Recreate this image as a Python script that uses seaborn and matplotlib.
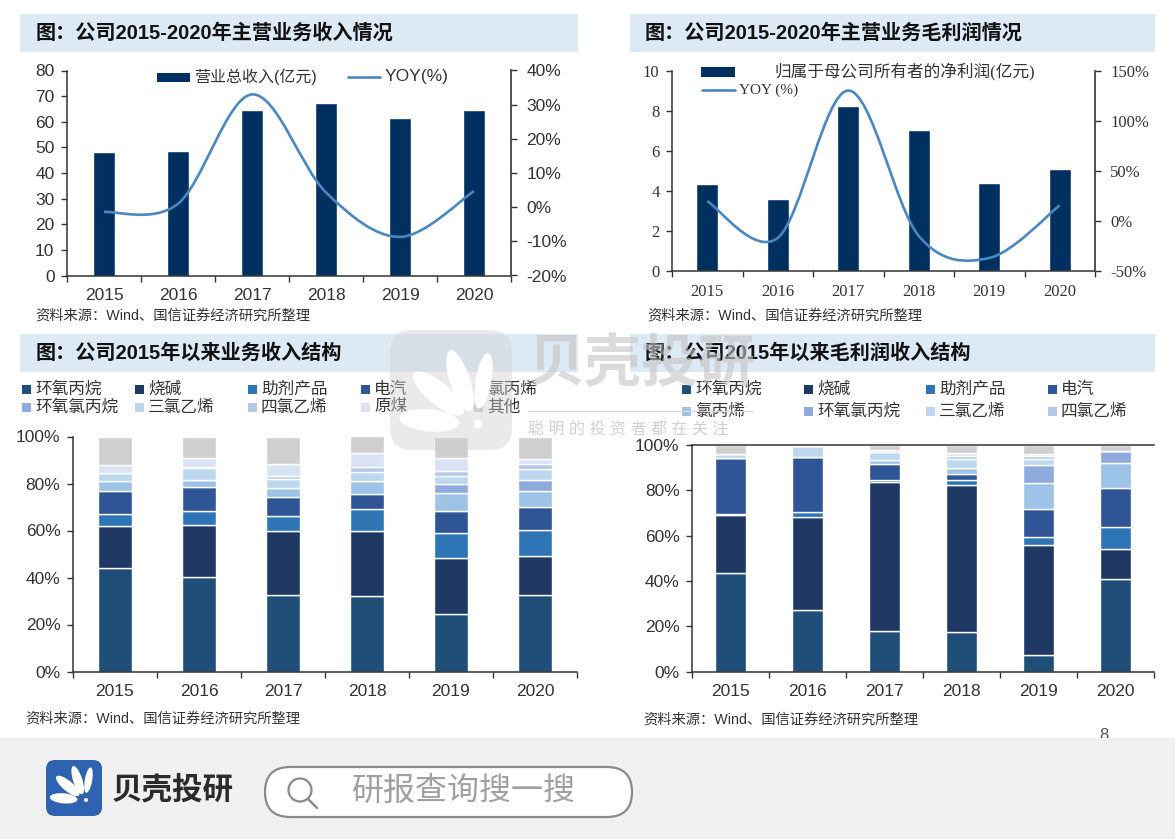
# 公司业务收入与毛利润结构图

import numpy as np
import pandas as pd
import seaborn as sns
import matplotlib.pyplot as plt
from matplotlib.lines import Line2D
from matplotlib.patches import Ellipse, FancyBboxPatch, PathPatch, Rectangle, Circle
from matplotlib.path import Path

years = ["2015", "2016", "2017", "2018", "2019", "2020"]

revenue = [48.1, 48.6, 64.6, 67.4, 61.6, 64.6]
revenue_yoy = [-1.4, 1.0, 33.0, 4.3, -8.7, 4.7]
profit = [4.33, 3.59, 8.25, 7.02, 4.39, 5.07]
profit_yoy = [19.6, -17.0, 130.0, -15.0, -37.0, 15.5]

income_names = ["环氧丙烷", "烧碱", "助剂产品", "电汽", "氯丙烯", "环氧氯丙烷", "三氯乙烯", "四氯乙烯", "原煤", "其他"]
income_2015 = [44.0, 18.0, 5.0, 10.0, 3.9, 0.0, 3.6, 0.0, 3.5, 12.0]
income_2016 = [40.4, 22.0, 6.0, 10.3, 3.0, 0.0, 4.8, 0.5, 4.0, 9.0]
income_2017 = [32.6, 27.1, 6.5, 8.0, 3.8, 0.0, 4.0, 1.0, 5.4, 11.6]
income_2018 = [32.0, 27.7, 9.3, 6.7, 5.3, 0.0, 4.0, 2.2, 5.6, 7.2]
income_2019 = [24.4, 23.8, 10.9, 9.3, 7.5, 3.7, 3.8, 2.1, 5.5, 9.0]
income_2020 = [32.6, 16.6, 10.9, 9.9, 6.6, 5.1, 4.4, 2.3, 2.0, 9.6]

margin_2015 = [43.7, 25.3, 0.7, 24.6, 0.0, 0.0, 1.7, 0.0, 0.0, 4.0]
margin_2016 = [27.2, 41.1, 1.9, 24.5, 0.0, 0.0, 5.0, 0.0, 0.0, 0.3]
margin_2017 = [18.0, 65.8, 0.9, 7.1, 1.7, 0.0, 3.5, 0.0, 1.0, 2.0]
margin_2018 = [17.4, 65.1, 1.9, 2.8, 2.5, 0.0, 4.3, 1.3, 1.3, 3.4]
margin_2019 = [7.2, 48.6, 3.4, 12.4, 11.6, 8.0, 2.6, 1.2, 1.0, 4.0]
margin_2020 = [40.8, 13.5, 9.7, 17.1, 10.8, 5.6, 0.0, 0.0, 0.0, 2.5]

stack_colors = ["#1F4E79", "#1F3864", "#2E75B6", "#2F5597", "#9DC3E6",
                "#8FAADC", "#BDD7EE", "#B4C7E7", "#DAE3F3", "#D0CECE"]

sns.set_theme(style="white")
plt.rcParams['font.family'] = ['Liberation Sans', 'Noto Sans CJK SC']
serif = ['Liberation Serif', 'Noto Sans CJK SC']

W, H = 1175, 839
fig = plt.figure(figsize=(W / 100, H / 100), dpi=100)
fig.patch.set_facecolor("white")


def axes_px(left, top, right, bottom):
    return fig.add_axes([left / W, 1 - bottom / H, (right - left) / W, (bottom - top) / H])


def style_axes(ax, size=12.5, family=None):
    ax.set_xlim(-0.5, 5.5)
    ax.set_xlabel("")
    ax.set_ylabel("")
    ax.set_xticks(np.arange(-0.5, 6, 1), minor=True)
    ax.tick_params(axis="x", which="major", length=0, pad=9, labelsize=size, colors="#333333")
    ax.tick_params(axis="x", which="minor", length=4, width=1, color="#333333", direction="out", bottom=True)
    ax.tick_params(axis="y", length=4, width=1, color="#333333", direction="out", left=True,
                   labelsize=size, labelcolor="#333333", pad=5)
    sns.despine(ax=ax)
    for s in ["left", "bottom"]:
        ax.spines[s].set_color("#333333")
        ax.spines[s].set_linewidth(1.1)
    if family:
        for t in ax.get_xticklabels() + ax.get_yticklabels():
            t.set_family(family)


def smooth_line(ax, ys):
    # 平滑折线，直接用贝塞尔控制点画，不增加数据点
    pts = np.column_stack([np.arange(len(ys)), ys], ).astype(float)
    verts = [pts[0]]
    codes = [Path.MOVETO]
    for i in range(len(pts) - 1):
        p0, p1, p2, p3 = pts[max(i - 1, 0)], pts[i], pts[i + 1], pts[min(i + 2, len(pts) - 1)]
        verts += [p1 + (p2 - p0) / 6, p2 - (p3 - p1) / 6, p2]
        codes += [Path.CURVE4] * 3
    ax.add_patch(PathPatch(Path(verts, codes), fill=False, edgecolor="#4A86C0", lw=1.9))


def combo_chart(box, bars, yoy, ylim, yticks, yoy_lim, yoy_ticks, family=None, size=12.5):
    ax = axes_px(*box)
    sns.barplot(x=years, y=bars, color="#00305F", saturation=1, width=0.31, errorbar=None, ax=ax)
    ax.set_ylim(*ylim)
    ax.set_yticks(yticks)
    style_axes(ax, size, family)
    ax2 = ax.twinx()
    ax2.set_ylim(*yoy_lim)
    ax2.set_yticks(yoy_ticks)
    ax2.set_yticklabels([f"{v}%" for v in yoy_ticks])
    ax2.grid(False)
    ax2.tick_params(axis="y", length=4, width=1, color="#333333", direction="out", right=True,
                    labelsize=size, labelcolor="#333333", pad=7)
    for s in ["top", "left", "bottom"]:
        ax2.spines[s].set_visible(False)
    ax2.spines["right"].set_color("#444444")
    ax2.spines["right"].set_linewidth(1.3)
    if family:
        for t in ax2.get_yticklabels():
            t.set_family(family)
    smooth_line(ax2, yoy)
    return ax


def stacked_chart(box, rows, top_line=False):
    table = pd.DataFrame(rows, columns=income_names, index=years)
    ax = axes_px(*box)
    bottom = np.zeros(len(years))
    for name, color in zip(income_names, stack_colors):
        sns.barplot(x=years, y=table[name].values, bottom=bottom, color=color, saturation=1,
                    width=0.40, errorbar=None, ax=ax)
        bottom = bottom + table[name].values
    ax.set_ylim(0, 100)
    ax.set_yticks(range(0, 101, 20))
    ax.set_yticklabels([f"{v}%" for v in range(0, 101, 20)])
    style_axes(ax)
    if top_line:
        ax.spines["top"].set_visible(True)
        ax.spines["top"].set_color("#333333")
        ax.spines["top"].set_linewidth(1.1)
    return ax


combo_chart((67, 70.5, 511, 275.5), revenue, revenue_yoy, (0, 80), range(0, 81, 10),
            (-20, 40), list(range(-20, 41, 10)))
combo_chart((672, 70.5, 1095, 271), profit, profit_yoy, (0, 10), range(0, 11, 2),
            (-50, 150), list(range(-50, 151, 50)), family=serif, size=12)
stacked_chart((73, 436.5, 577, 671.5),
              [income_2015, income_2016, income_2017, income_2018, income_2019, income_2020])
stacked_chart((692, 445, 1154, 671.5),
              [margin_2015, margin_2016, margin_2017, margin_2018, margin_2019, margin_2020], top_line=True)

# 覆盖全图的像素坐标层：标题条、图例、水印、底栏
over = fig.add_axes([0, 0, 1, 1], zorder=10)
over.set_xlim(0, W)
over.set_ylim(H, 0)
over.axis("off")
over.patch.set_alpha(0)

titles = ["图：公司2015-2020年主营业务收入情况", "图：公司2015-2020年主营业务毛利润情况",
          "图：公司2015年以来业务收入结构", "图：公司2015年以来毛利润收入结构"]
bands = [(20, 14, 558, 38), (630, 14, 525, 38), (20, 334, 558, 38), (630, 334, 525, 38)]
for (x, y, w, h), title, tx in zip(bands, titles, [36, 645, 36, 645]):
    over.add_patch(Rectangle((x, y), w, h, color="#DDE9F5", lw=0, zorder=0))
    over.text(tx, y + h / 2, title, fontsize=14.5, fontweight="bold", color="#111111", va="center", ha="left")

source = "资料来源：Wind、国信证券经济研究所整理"
for x, y in [(35, 317), (647, 317), (25, 720), (643, 721)]:
    over.text(x, y, source, fontsize=10.3, color="#333333", va="center", ha="left")

# 上方两张图的图例
over.add_patch(Rectangle((157, 73), 33, 9, color="#00305F", lw=0))
over.text(194, 77, "营业总收入(亿元)", fontsize=11.5, color="#333333", va="center")
over.add_line(Line2D([348, 380], [77, 77], color="#4A86C0", lw=1.9))
over.text(385, 77, "YOY(%)", fontsize=12.5, color="#333333", va="center")

over.add_patch(Rectangle((701, 67), 34, 10, color="#00305F", lw=0))
over.text(774, 72, "归属于母公司所有者的净利润(亿元)", fontsize=12, color="#333333", va="center", family=serif)
over.add_line(Line2D([702, 735], [90, 90], color="#4A86C0", lw=1.9))
over.text(739, 90, "YOY (%)", fontsize=11, color="#333333", va="center", family=serif)


def square_legend(names, colors, x0, step, y0, dy, per_row):
    for i, (name, color) in enumerate(zip(names, colors)):
        x = x0 + step * (i % per_row)
        y = y0 + dy * (i // per_row)
        over.add_patch(Rectangle((x, y - 4.5), 9, 9, color=color, lw=0))
        over.text(x + 13, y, name, fontsize=12, color="#333333", va="center")


square_legend(income_names, stack_colors, 22, 113, 389, 18, 5)
square_legend(income_names[:8], stack_colors[:8], 682, 122, 389, 22, 4)

over.text(1104, 735, "8", fontsize=12, color="#555555", ha="center", va="center", zorder=1)


def shell(cx, cy, k, color):
    # 贝壳花瓣，(cx, cy) 为壳底
    for dx, dy, a, b, ang in [(-27, -2, 30, 11, 5), (-22, -17, 32, 11, 40),
                              (-10, -24, 32, 10, 72), (3, -24, 28, 8, 100)]:
        over.add_patch(Ellipse((cx + dx * k * 0.9, cy + dy * k * 0.9), a * k, b * k, angle=ang,
                               color=color, lw=0, zorder=6))
    over.add_patch(Circle((cx, cy), 2.2 * k, color=color, lw=0, zorder=6))


# 水印
over.add_patch(FancyBboxPatch((390, 330), 122, 120, boxstyle="round,pad=0,rounding_size=22",
                              facecolor="#CFCFCF", edgecolor="none", alpha=0.42, zorder=5))
shell(478, 424, 2.0, "white")
over.text(528, 366, "贝壳投研", fontsize=41, fontweight="bold", color="#C4C4C4", alpha=0.6, va="center", zorder=5)
over.add_line(Line2D([528, 752], [411, 411], color="#D8D8D8", lw=1, zorder=5))
over.text(528, 430, "聪 明 的 投 资 者 都 在 关 注", fontsize=11.5, color="#D0D0D0", va="center", zorder=5)

# 底栏
over.add_patch(Rectangle((0, 738), W, H - 738, color="#F0F0F0", lw=0, zorder=2))
over.add_patch(FancyBboxPatch((46, 760), 56, 56, boxstyle="round,pad=0,rounding_size=9",
                              facecolor="#2F62B0", edgecolor="none", zorder=3))
shell(86, 800, 0.92, "white")
over.text(112, 791, "贝壳投研", fontsize=22, fontweight="bold", color="#2B2B2B", va="center", zorder=3)
over.add_patch(FancyBboxPatch((265, 767), 367, 50, boxstyle="round,pad=0,rounding_size=25",
                              facecolor="white", edgecolor="#8A8A8A", lw=1.6, zorder=3))
over.add_patch(Circle((300, 790), 11.5, facecolor="none", edgecolor="#8A8A8A", lw=1.6, zorder=4))
over.add_line(Line2D([308, 317], [799, 808], color="#8A8A8A", lw=1.8, zorder=4))
over.text(352, 792, "研报查询搜一搜", fontsize=23, color="#A0A0A0", va="center", zorder=4)

plt.savefig('out.png', dpi=100)
